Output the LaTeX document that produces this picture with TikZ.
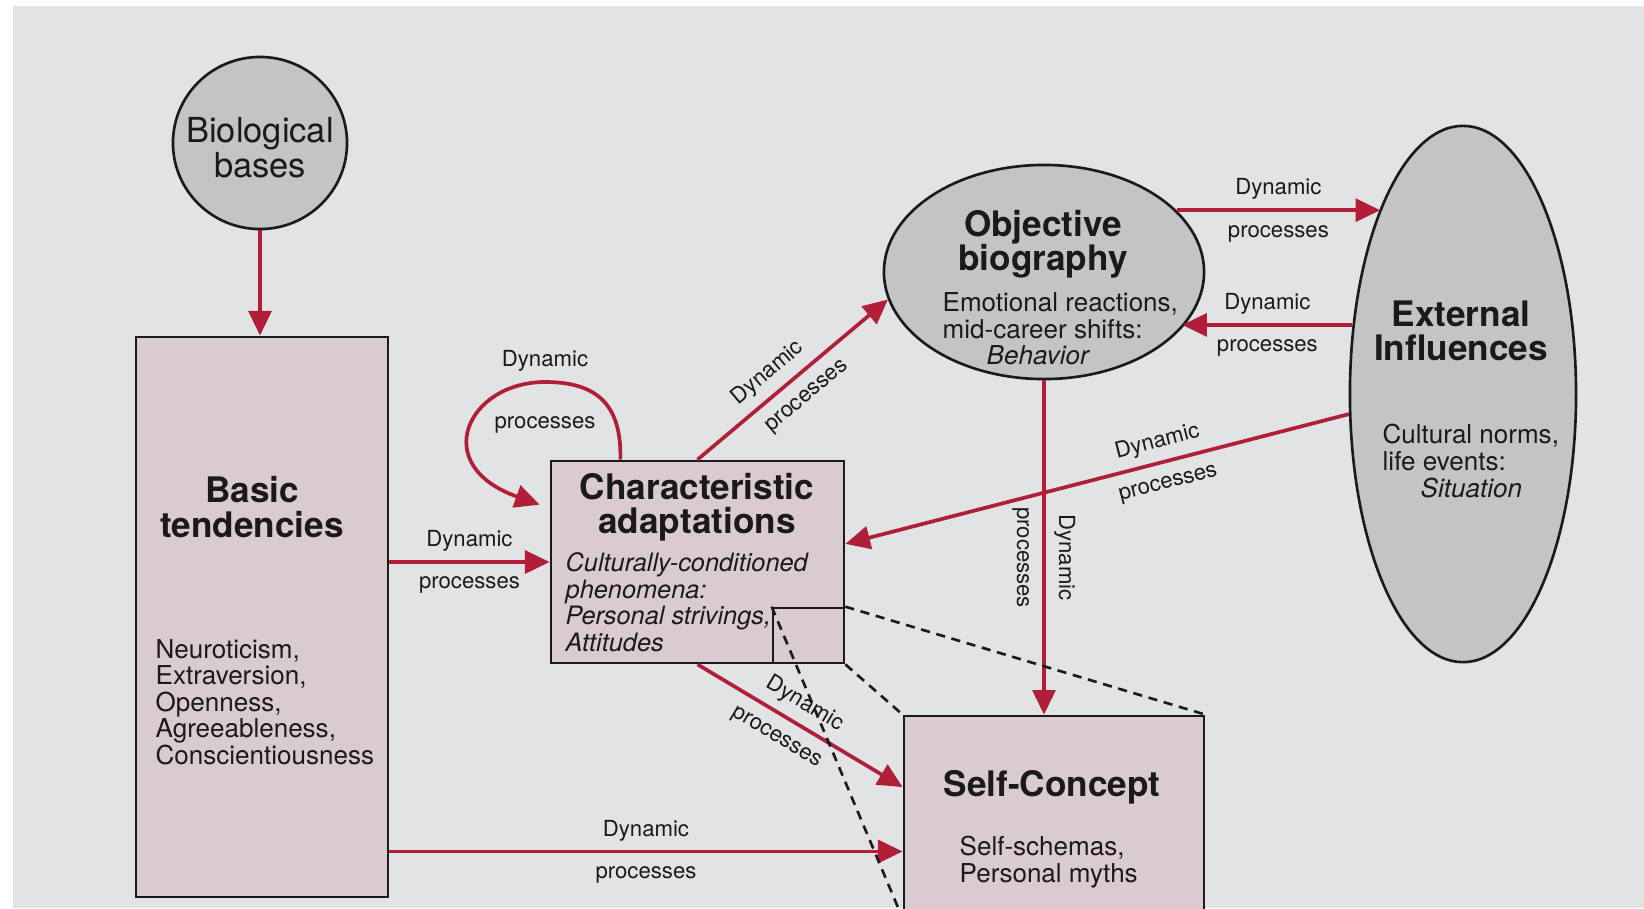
\documentclass[tikz,border=0pt]{standalone}
\usepackage{fontspec}
\setmainfont{TeX Gyre Heros}
\usetikzlibrary{shapes.geometric,arrows.meta}

\definecolor{paper}{HTML}{E1E3E5}
\definecolor{boxpink}{HTML}{DACAD1}
\definecolor{blobgrey}{HTML}{C3C4C6}
\definecolor{arrowred}{HTML}{B01E38}
\definecolor{ink}{HTML}{1A1A1A}

\newcommand{\headfont}{\fontsize{10}{9.8}\selectfont\bfseries}
\newcommand{\biofont}{\fontsize{9.8}{10}\selectfont}
\newcommand{\bodyfont}{\fontsize{7.4}{7.55}\selectfont}
\newcommand{\italfont}{\fontsize{7.2}{7.55}\selectfont\itshape}
\newcommand{\lblfont}{\fontsize{6.3}{7}\selectfont}

\begin{document}
\begin{tikzpicture}[x=0.01cm, y=-0.01cm,
    box/.style={draw=ink, line width=0.75pt, fill=boxpink, rectangle, inner sep=0pt},
    blob/.style={draw=ink, line width=0.75pt, fill=blobgrey, ellipse, inner sep=0pt},
    flow/.style={draw=arrowred, line width=1.05pt, -{Triangle[length=7pt, width=6.5pt]}},
    lbl/.style={font=\lblfont, text=ink, inner sep=2.5pt, text height=4.6pt, text depth=1.3pt},
    txt/.style={text=ink, inner sep=0pt, align=center}]

        \useasboundingbox (0,0) rectangle (1644,908);
        \fill[white] (0,0) rectangle (1644,908);
        \fill[paper] (13,6) rectangle (1644,908);
        \clip (0,0) rectangle (1644,908);

        % shapes
        \node[name=bio, blob, minimum width=1.74cm, minimum height=1.72cm] at (260,143) {};
        \node[name=bt, box, minimum width=2.52cm, minimum height=5.6cm] at (262,617) {};
        \node[name=ca, box, minimum width=2.93cm, minimum height=2.02cm] at (697.5,562) {};
        \node[name=ob, blob, minimum width=3.2cm, minimum height=2.14cm] at (1044,272) {};
        \node[name=ei, blob, minimum width=2.26cm, minimum height=5.36cm] at (1463,394) {};
        \node[name=sc, box, minimum width=3cm, minimum height=2.01cm] at (1054,816.5) {};
        \node[name=zoomsq, draw=ink, line width=0.75pt, inner sep=0pt, minimum width=0.71cm, minimum height=0.55cm] at (808.5,635.5) {};

        % texts
        \node[name=biotxt, txt, font=\biofont] at (260,148) {Biological\\bases};
        \node[name=bthead, txt, font=\headfont] at (252,507) {Basic\\tendencies};
        \node[name=btlist, txt, font=\bodyfont, align=left, anchor=west] at (155,702) {Neuroticism,\\Extraversion,\\Openness,\\Agreeableness,\\Conscientiousness};
        \node[name=cahead, txt, font=\headfont] at (697,507) {Characteristic\\adaptations};
        \node[name=catxt, txt, font=\italfont, align=left, anchor=west] at (565,602) {Culturally-conditioned\\phenomena:\\Personal strivings,\\Attitudes};
        \node[name=obhead, txt, font=\headfont] at (1043,244) {Objective\\biography};
        \node[name=obtxt, txt, font=\bodyfont, align=left, anchor=west] at (942,329) {Emotional reactions,\\mid-career shifts:\\\hspace*{0.44cm}\textit{Behavior}};
        \node[name=eihead, txt, font=\headfont] at (1461,331) {External\\Influences};
        \node[name=eitxt, txt, font=\bodyfont, align=left, anchor=west] at (1382,461) {Cultural norms,\\life events:\\\hspace*{0.38cm}\textit{Situation}};
        \node[name=schead, txt, font=\headfont] at (1052,787) {Self-Concept};
        \node[name=sctxt, txt, font=\bodyfont, align=left, anchor=west] at (959,862) {Self-schemas,\\Personal myths};

        % dynamic processes
        \draw[flow] (bio.south) -- (bio.south |- bt.north);
        \draw[flow] (bt.east |- ca.west) -- node[lbl, above] {Dynamic} node[lbl, below] {processes} (ca.west);
        \draw[flow, shorten >=3pt] (ca.127) .. controls (622,400) and (592,382) .. (545,382)
            node[lbl, pos=1, above] {Dynamic} node[lbl, pos=1, below=0.2cm] {processes}
            .. controls (468,382) and (428,465) .. (ca.160);
        \draw[flow] (ca.north) -- node[lbl, sloped, above, pos=0.44] {Dynamic} node[lbl, sloped, below, pos=0.5] {processes} (ob.190);
        \draw[flow] (ob.25) -- node[lbl, above] {Dynamic} node[lbl, below] {processes} (ei.114 |- ob.25);
        \draw[flow] (ei.148) -- node[lbl, above] {Dynamic} node[lbl, below] {processes} (ob.-22 |- ei.148);
        \draw[flow] (ei.190) -- node[lbl, sloped, above, pos=0.37] {Dynamic} node[lbl, sloped, below, pos=0.37] {processes} (ca.7);
        \draw[flow] (ob.south) -- node[lbl, rotate=-90, above, pos=0.53] {Dynamic} node[lbl, rotate=-90, below, pos=0.53] {processes} (ob.south |- sc.north);
        \draw[flow] (ca.south) -- node[lbl, sloped, above, pos=0.47] {Dynamic} node[lbl, sloped, below, pos=0.44] {processes} (sc.169);
        \draw[flow] (bt.east |- sc.193) -- node[lbl, above] {Dynamic} node[lbl, below] {processes} (sc.193);

        % zoom lines
        \draw[ink, line width=0.75pt, dash pattern=on 2.6pt off 1.9pt]
            (zoomsq.north east) -- (sc.north east)
            (zoomsq.south east) -- (sc.north west)
            (zoomsq.north west) -- (sc.south west);
\end{tikzpicture}
\end{document}
